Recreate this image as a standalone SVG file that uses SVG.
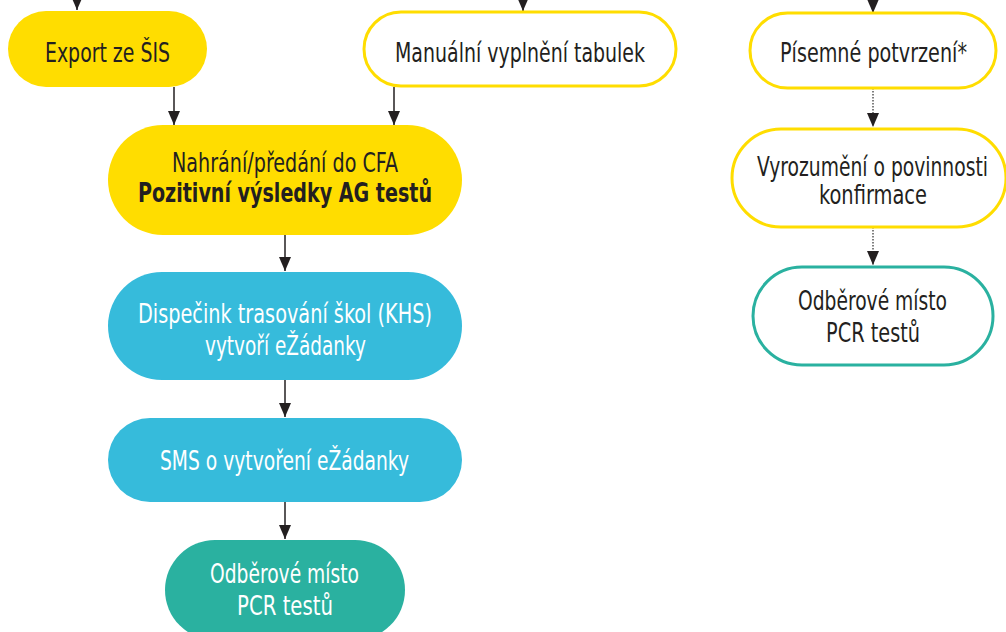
<svg xmlns="http://www.w3.org/2000/svg" width="1006" height="632" viewBox="0 0 1006 632">
<defs>
<marker id="ah" viewBox="0 0 14 12" refX="14" refY="6" markerWidth="14" markerHeight="12" markerUnits="userSpaceOnUse" orient="auto">
<path d="M0,0 L14,6 L0,12 z" fill="#231f20"/>
</marker>
<style>
text{font-family:"DejaVu Sans Condensed","Liberation Sans",sans-serif;font-size:27px;text-anchor:middle;fill:#231f20}
.w{fill:#ffffff}
.b{font-weight:bold}
.yf{fill:#ffdd00}
.yo{fill:#ffffff;stroke:#ffdd00;stroke-width:3}
.bf{fill:#36bbdb}
.tf{fill:#2ab1a0}
.to{fill:#ffffff;stroke:#2ab1a0;stroke-width:3}
.c{stroke:#231f20;stroke-width:1.5;fill:none;marker-end:url(#ah)}
.d{stroke:#555;stroke-width:1.5;stroke-dasharray:1.5,1.5;fill:none;marker-end:url(#ah)}
</style>
</defs>
<g id="connectors">
<line class="c" x1="77" y1="-10" x2="77" y2="10"/>
<line class="c" x1="523" y1="-10" x2="523" y2="11"/>
<line class="c" x1="873" y1="-10" x2="873" y2="13"/>
<line class="c" x1="174" y1="87" x2="174" y2="125"/>
<line class="c" x1="394" y1="87" x2="394" y2="125"/>
<line class="c" x1="285" y1="235" x2="285" y2="271"/>
<line class="c" x1="285" y1="380" x2="285" y2="417"/>
<line class="c" x1="285" y1="502" x2="285" y2="539"/>
<line class="d" x1="873" y1="88" x2="873" y2="127"/>
<line class="d" x1="873" y1="227" x2="873" y2="265"/>
</g>
<g id="export">
<rect class="yf" x="8" y="11" width="199" height="76" rx="38"/>
<text x="107.5" y="62" textLength="125" lengthAdjust="spacingAndGlyphs">Export ze ŠIS</text>
</g>
<g id="manual">
<rect class="yo" x="364" y="12" width="312" height="74" rx="37"/>
<text x="520" y="62" textLength="250" lengthAdjust="spacingAndGlyphs">Manuální vyplnění tabulek</text>
</g>
<g id="pisemne">
<rect class="yo" x="750" y="13" width="246" height="75" rx="37.5"/>
<text x="873.5" y="62" textLength="187" lengthAdjust="spacingAndGlyphs">Písemné potvrzení*</text>
</g>
<g id="vyrozumeni">
<rect class="yo" x="732" y="129" width="274" height="98" rx="49"/>
<text x="872.5" y="176" textLength="231" lengthAdjust="spacingAndGlyphs">Vyrozumění o povinnosti</text>
<text x="873" y="204" textLength="108" lengthAdjust="spacingAndGlyphs">konfirmace</text>
</g>
<g id="odber-right">
<rect class="to" x="753" y="267" width="240" height="98" rx="49"/>
<text x="872.5" y="310" textLength="149" lengthAdjust="spacingAndGlyphs">Odběrové místo</text>
<text x="873" y="342" textLength="94" lengthAdjust="spacingAndGlyphs">PCR testů</text>
</g>
<g id="nahrani">
<rect class="yf" x="108" y="125" width="354" height="110" rx="55"/>
<text x="285" y="172" textLength="226" lengthAdjust="spacingAndGlyphs">Nahrání/předání do CFA</text>
<text class="b" x="285" y="202" textLength="294" lengthAdjust="spacingAndGlyphs">Pozitivní výsledky AG testů</text>
</g>
<g id="dispecink">
<rect class="bf" x="108" y="272" width="354" height="108" rx="54"/>
<text class="w" x="285" y="323" textLength="294" lengthAdjust="spacingAndGlyphs">Dispečink trasování škol (KHS)</text>
<text class="w" x="285.5" y="355" textLength="161" lengthAdjust="spacingAndGlyphs">vytvoří eŽádanky</text>
</g>
<g id="sms">
<rect class="bf" x="108" y="418" width="354" height="84" rx="42"/>
<text class="w" x="284.5" y="470" textLength="249" lengthAdjust="spacingAndGlyphs">SMS o vytvoření eŽádanky</text>
</g>
<g id="odber-left">
<rect class="tf" x="165" y="540" width="240" height="100" rx="50"/>
<text class="w" x="284.5" y="583" textLength="149" lengthAdjust="spacingAndGlyphs">Odběrové místo</text>
<text class="w" x="285" y="615" textLength="96" lengthAdjust="spacingAndGlyphs">PCR testů</text>
</g>
</svg>
